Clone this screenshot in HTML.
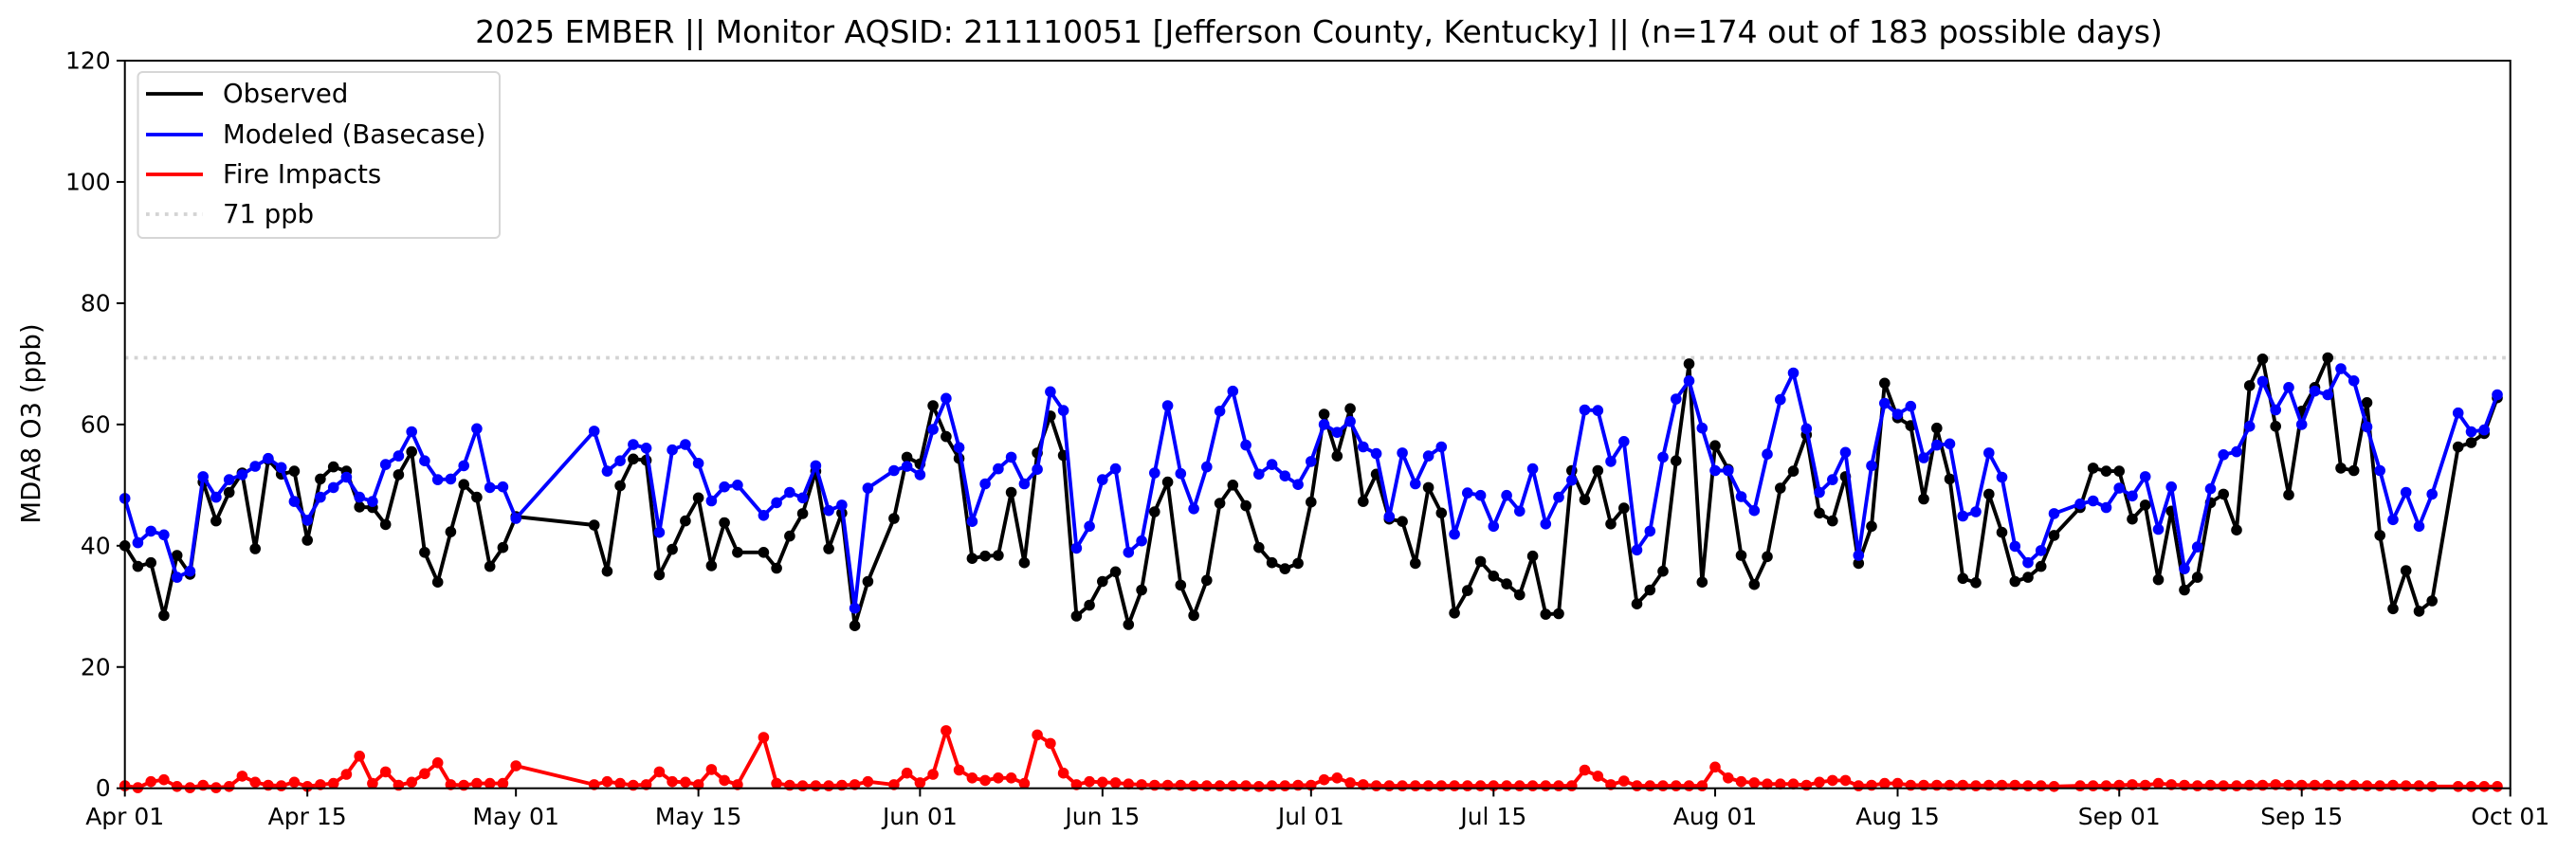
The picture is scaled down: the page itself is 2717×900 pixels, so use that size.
<!DOCTYPE html>
<html>
<head>
<meta charset="utf-8">
<style>
  html,body{margin:0;padding:0;background:#fff;}
  svg{display:block;font-family:"DejaVu Sans","Liberation Sans",sans-serif;}
</style>
</head>
<body>
<svg id="chart" width="2717" height="900" viewBox="0 0 2717 900" xmlns="http://www.w3.org/2000/svg">
  <rect x="0" y="0" width="2717" height="900" fill="#fff"/>
  <text x="1391" y="45" text-anchor="middle" font-size="33" fill="#000">2025 EMBER || Monitor AQSID: 211110051 [Jefferson County, Kentucky] || (n=174 out of 183 possible days)</text>
  <text transform="translate(33,447) rotate(-90)" text-anchor="middle" dominant-baseline="central" font-size="27.5" fill="#000">MDA8 O3 (ppb)</text>
  <g id="plot"></g>
</svg>
<script>
const dayCount = 183;
const xTickDays = [0,14,30,44,61,75,91,105,122,136,153,167,183];
const xTickLabels = ["Apr 01","Apr 15","May 01","May 15","Jun 01","Jun 15","Jul 01","Jul 15","Aug 01","Aug 15","Sep 01","Sep 15","Oct 01"];
const yTicks = [0,20,40,60,80,100,120];
const threshold = 71;
const N = null;
const observed = [
40,36.6,37.2,28.5,38.4,35.3,50.5,44.1,48.8,52,39.5,54.2,51.8,52.3,40.9,51,53,52.3,46.4,46.3,43.5,51.7,55.5,38.9,34,42.3,50.1,48,36.6,39.7,44.8,
N,N,N,N,N,
43.4,35.8,49.9,54.3,54.1,35.2,39.4,44.1,47.9,36.7,43.8,38.9,
N,
38.9,36.3,41.6,45.3,52.3,39.5,45.4,26.8,34.1,
N,
44.5,54.6,53.5,63.1,58,
54.4,37.9,38.3,38.4,48.8,37.2,55.3,61.4,54.9,28.4,30.2,34.1,35.7,27,32.7,45.6,50.5,33.5,28.5,34.3,47,50,46.6,39.7,37.2,36.2,37.1,47.2,61.7,54.8,62.6,47.3,
51.8,44.4,44,37.1,49.6,45.4,28.9,32.6,37.4,35,33.7,31.9,38.3,28.7,28.8,52.4,47.6,52.4,43.6,46.2,30.4,32.7,35.8,54,70,34,56.5,52.6,38.4,33.6,38.2,49.5,52.3,
58.3,45.4,44.1,51.4,37.1,43.2,66.8,61.1,59.8,47.7,59.4,51,34.6,33.9,48.5,42.2,34.1,34.8,36.6,41.7,
N,
46.3,52.8,52.3,52.3,44.4,46.7,34.4,45.7,32.7,34.8,47.1,48.5,42.6,66.4,70.8,59.7,48.4,62.2,66.1,71,52.8,52.4,63.6,41.7,29.6,35.9,29.2,30.9,
N,
56.3,57,58.5,64.4];
const modeled = [
47.8,40.5,42.4,41.8,34.8,35.8,51.4,48,50.9,51.7,53.1,54.4,52.9,47.3,44.2,48,49.6,51.3,48,47.3,53.4,54.8,58.8,54,50.9,51,53.2,59.3,49.6,49.7,44.5,
N,N,N,N,N,
58.9,52.3,54,56.7,56.1,42.2,55.8,56.7,53.6,47.4,49.7,50,
N,
45,47.1,48.8,47.9,53.2,45.8,46.7,29.7,49.5,
N,
52.4,53.1,51.7,59.2,64.3,
56.2,44,50.2,52.7,54.6,50.2,52.6,65.4,62.3,39.6,43.2,50.9,52.7,38.9,40.8,52,63.1,51.9,46.1,53,62.2,65.5,56.6,51.8,53.4,51.5,50.1,53.9,60,58.7,60.5,56.3,
55.2,44.8,55.3,50.2,54.8,56.3,41.9,48.7,48.3,43.2,48.3,45.7,52.7,43.6,48,50.8,62.4,62.3,53.9,57.2,39.3,42.4,54.6,64.2,67.2,59.4,52.4,52.4,48.1,45.8,55.1,64.1,68.5,
59.3,48.8,50.9,55.4,38.4,53.2,63.5,61.7,63,54.5,56.6,56.8,44.9,45.6,55.3,51.3,39.9,37.2,39.2,45.3,
N,
46.9,47.4,46.3,49.5,48.2,51.4,42.7,49.7,36.2,39.8,49.4,55,55.5,59.7,67.1,62.4,66.1,60,65.5,64.9,69.2,67.2,59.6,52.4,44.3,48.8,43.2,48.5,
N,
61.9,58.8,59.1,64.9];
const fireImpacts = [
0.4,0.1,1.1,1.4,0.3,0.1,0.5,0.1,0.3,2,1,0.5,0.4,1,0.3,0.6,0.8,2.3,5.3,0.8,2.7,0.5,1,2.4,4.2,0.6,0.5,0.8,0.8,0.8,3.7,
N,N,N,N,N,
0.6,1.1,0.8,0.5,0.6,2.7,1.1,1,0.6,3.1,1.3,0.6,
N,
8.4,0.8,0.5,0.4,0.4,0.4,0.5,0.6,1.1,
N,
0.6,2.5,0.9,2.3,9.5,
3,1.7,1.3,1.7,1.7,0.8,8.8,7.4,2.5,0.6,1.1,1,0.9,0.7,0.6,0.5,0.5,0.5,0.4,0.4,0.4,0.4,0.4,0.3,0.4,0.4,0.5,0.5,1.4,1.7,0.9,0.6,
0.4,0.4,0.4,0.4,0.4,0.4,0.4,0.4,0.4,0.4,0.4,0.4,0.4,0.4,0.4,0.4,3,2,0.6,1.2,0.4,0.4,0.4,0.4,0.4,0.4,3.5,1.7,1.1,0.9,0.7,0.7,0.7,
0.5,1,1.3,1.3,0.4,0.5,0.8,0.8,0.5,0.5,0.5,0.5,0.5,0.4,0.5,0.5,0.5,0.4,0.4,0.3,
N,
0.4,0.4,0.4,0.5,0.6,0.5,0.8,0.6,0.5,0.4,0.5,0.4,0.4,0.5,0.5,0.6,0.5,0.5,0.5,0.5,0.4,0.5,0.4,0.4,0.5,0.4,0.4,0.3,
N,
0.3,0.3,0.3,0.3];

const L = 131.7, R = 2647.7, T = 64, B = 831.7;
const yMax = 120;
function xs(d){ return L + d * (R - L) / dayCount; }
function ys(v){ return B - v * (B - T) / yMax; }
const NS = "http://www.w3.org/2000/svg";
const plot = document.getElementById("plot");
function mk(tag, attrs, parent){
  const e = document.createElementNS(NS, tag);
  for (const k in attrs) e.setAttribute(k, attrs[k]);
  (parent || plot).appendChild(e);
  return e;
}

const thr = mk("line", {x1:L, x2:R, y1:ys(threshold), y2:ys(threshold), stroke:"#d3d3d3", "stroke-width":3.75, "stroke-dasharray":"3.75,6.2"});



function drawSeries(vals, color, name){
  const g = mk("g", {});
  
  
  const pts = [];
  vals.forEach((v, d) => { if (v !== null) pts.push([xs(d), ys(v)]); });
  const line = mk("polyline", {points: pts.map(p => p[0].toFixed(1) + "," + p[1].toFixed(1)).join(" "), fill:"none", stroke:color, "stroke-width":3.9, "stroke-linejoin":"round"}, g);
  
  
  vals.forEach((v, d) => {
    if (v === null) return;
    const c = mk("circle", {cx:xs(d).toFixed(1), cy:ys(v).toFixed(1), r:5.8, fill:color}, g);
    
    
  });
}
drawSeries(observed, "#000000", "observed");
drawSeries(modeled, "#0000ff", "modeled");
drawSeries(fireImpacts, "#ff0000", "fire-impacts");

const frame = mk("rect", {x:L, y:T, width:R-L, height:B-T, fill:"none", stroke:"#000", "stroke-width":2});



xTickDays.forEach((d, i) => {
  const t = mk("line", {x1:xs(d), x2:xs(d), y1:B, y2:B+8.75, stroke:"#000", "stroke-width":2});
  
  
  const lb = mk("text", {x:xs(d), y:870, "text-anchor":"middle", "font-size":25, fill:"#000"});
  lb.textContent = xTickLabels[i];
  
  
});
yTicks.forEach(v => {
  const t = mk("line", {x1:L-8.75, x2:L, y1:ys(v), y2:ys(v), stroke:"#000", "stroke-width":2});
  
  
  const lb = mk("text", {x:L-15, y:ys(v), "text-anchor":"end", "dominant-baseline":"central", "font-size":25, fill:"#000"});
  lb.textContent = String(v);
  
  
});

const lg = mk("g", {});


const lbox = mk("rect", {x:145.5, y:76, width:381.5, height:175, rx:5, fill:"#fff", "fill-opacity":0.8, stroke:"#d6d6d6", "stroke-width":2}, lg);


const legendLabels = ["Observed","Modeled (Basecase)","Fire Impacts","71 ppb"];
const legendColors = ["#000000","#0000ff","#ff0000","#d3d3d3"];
const legendRowsY = [99,142,184,226];
legendLabels.forEach((txt, i) => {
  const y = legendRowsY[i];
  const ln = mk("line", {x1:154, x2:214, y1:y, y2:y, stroke:legendColors[i], "stroke-width":3.75}, lg);
  if (i === 3) ln.setAttribute("stroke-dasharray", "3.75,6.2");
  
  
  const t = mk("text", {x:235, y:y, "dominant-baseline":"central", "font-size":27.5, fill:"#000"}, lg);
  t.textContent = txt;
  
  
});
</script>
</body>
</html>
